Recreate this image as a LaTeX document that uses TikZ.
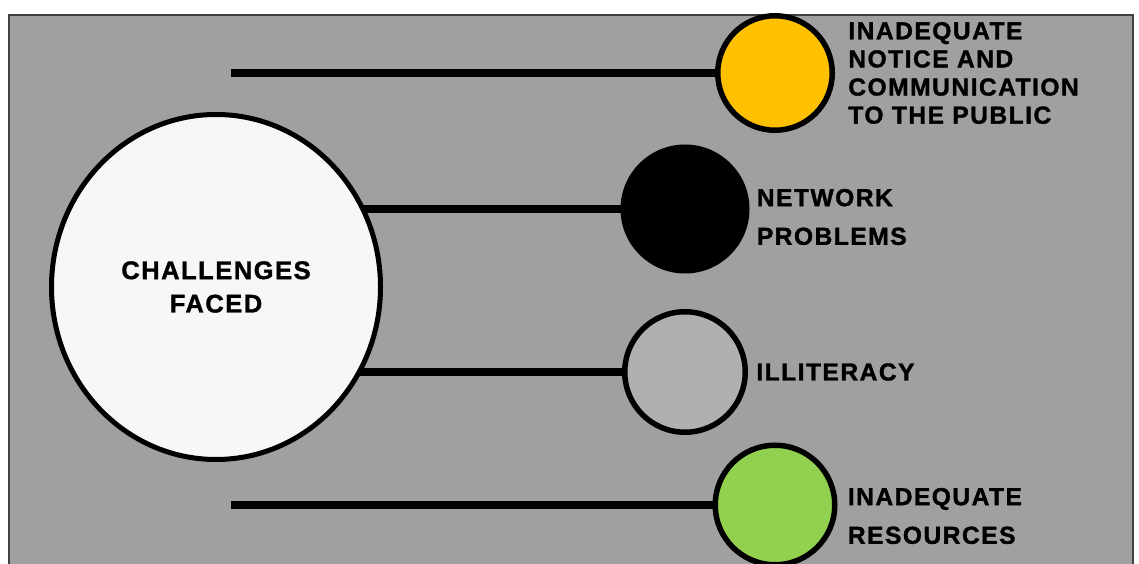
\documentclass[tikz,border=0pt]{standalone}
\usepackage{fontspec}
\setmainfont{Liberation Sans}
\newfontfamily\tagfont{Liberation Sans}[LetterSpace=6, FakeBold=1.4]
\usetikzlibrary{positioning, shapes.geometric}
\definecolor{panel}{HTML}{A0A0A0}
\definecolor{bubble}{HTML}{F7F7F7}
\definecolor{noticefill}{HTML}{FFC000}
\definecolor{illitfill}{HTML}{B0B0B0}
\definecolor{resfill}{HTML}{92D050}
\pgfdeclarelayer{bg}
\pgfsetlayers{bg,main}

\begin{document}
\begin{tikzpicture}[
  hub/.style={ellipse, draw=black, line width=0.1cm, fill=bubble,
              minimum width=6.58cm, minimum height=6.9cm, inner sep=0pt,
              align=center, font=\tagfont\bfseries\fontsize{14.5}{19}\selectfont},
  spoke/.style={circle, draw=black, line width=0.11cm, inner sep=0pt},
  tag/.style={inner sep=0pt, align=left,
              font=\tagfont\bfseries\fontsize{14}{16}\selectfont},
  widetag/.style={tag, font=\tagfont\bfseries\fontsize{14}{22}\selectfont},
  link/.style={line width=0.15cm, color=black}
]
  \useasboundingbox (0,0) rectangle (22.78,11.26);

  \node[hub] (hub) at (4.32,5.52) {CHALLENGES\\FACED};

  \node[spoke, fill=noticefill, minimum size=2.29cm] (notice)    at (15.5,9.8)  {};
  \node[spoke, fill=black,      minimum size=2.47cm] (network)   at (13.7,7.08) {};
  \node[spoke, fill=illitfill,  minimum size=2.41cm] (illit)     at (13.7,3.82) {};
  \node[spoke, fill=resfill,    minimum size=2.39cm] (resources) at (15.5,1.16) {};

  \node[tag, right=0.26cm of notice] (noticetxt)
    {INADEQUATE\\NOTICE AND\\COMMUNICATION\\TO THE PUBLIC};
  \node[widetag, right=0.14cm of network, yshift=-0.16cm] (networktxt)
    {NETWORK\\PROBLEMS};
  \node[tag, right=0.16cm of illit] (illittxt) {ILLITERACY};
  \node[widetag, right=0.2cm of resources, yshift=-0.22cm] (resourcestxt)
    {INADEQUATE\\RESOURCES};

  \coordinate (topend) at (4.62,9.8);
  \coordinate (lowend) at (4.62,1.16);

  \begin{pgfonlayer}{bg}
    \fill[panel, draw=black!75, line width=0.8pt] (0.18,-0.1) rectangle (22.66,10.96);
    \draw[link] (topend) -- (notice);
    \draw[link] (network) -- (network -| hub);
    \draw[link] (illit) -- (illit -| hub);
    \draw[link] (lowend) -- (resources);
  \end{pgfonlayer}
\end{tikzpicture}
\end{document}
